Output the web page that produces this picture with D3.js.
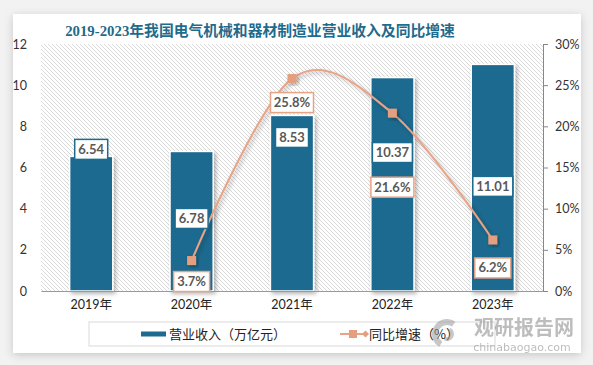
<!DOCTYPE html>
<html><head><meta charset="utf-8">
<script src="https://cdn.jsdelivr.net/npm/d3@7"></script>
<style>
html,body{margin:0;padding:0;background:#f2f2f2;}
svg{display:block;}
</style></head>
<body>
<svg id="c" width="593" height="365"></svg>
<script>
const categories = ["2019年","2020年","2021年","2022年","2023年"];
const revenue = [6.54, 6.78, 8.53, 10.37, 11.01];
const growth = [null, 3.7, 25.8, 21.6, 6.2];
const leftTicks = [0,2,4,6,8,10,12];
const rightTicks = [0,5,10,15,20,25,30];
const title = "2019-2023年我国电气机械和器材制造业营业收入及同比增速";
const legendBar = "营业收入（万亿元）";
const legendLine = "同比增速（%）";

// label offset styling (px relative to bar top / marker)
const barLabelDy = [-7, 67, 22, 75, 122];
const lineLabelDy = [0, 21, 24, 74, 28];

const svg = d3.select("#c");
const defs = svg.append("defs");
const f = defs.append("filter").attr("id","sh").attr("x","-30%").attr("y","-30%").attr("width","160%").attr("height","160%");
f.append("feDropShadow").attr("dx",2).attr("dy",2).attr("stdDeviation",2).attr("flood-color","#000").attr("flood-opacity",0.3);
const f2 = defs.append("filter").attr("id","card").attr("x","-10%").attr("y","-10%").attr("width","120%").attr("height","120%");
f2.append("feDropShadow").attr("dx",0).attr("dy",2).attr("stdDeviation",4).attr("flood-color","#000").attr("flood-opacity",0.18);
const pat = defs.append("pattern").attr("id","hatch").attr("patternUnits","userSpaceOnUse")
  .attr("width",4).attr("height",4);
pat.append("path").attr("d","M-1,-1 L5,5 M-1,3 L1,5 M3,-1 L5,1").attr("stroke","#cfcfcf").attr("stroke-width",0.8);

// card
svg.append("rect").attr("x",13).attr("y",14).attr("width",568).attr("height",339).attr("fill","#fff").attr("filter","url(#card)");

const m = {l:41, r:543, t:44, b:291};
const x = d3.scaleBand().domain(categories).range([m.l,m.r]).paddingInner(0.57).paddingOuter(0.285);
const yL = d3.scaleLinear().domain([0,12]).range([m.b,m.t]);
const yR = d3.scaleLinear().domain([0,30]).range([m.b,m.t]);

svg.append("rect").attr("x",m.l).attr("y",m.t).attr("width",m.r-m.l).attr("height",m.b-m.t).attr("fill","url(#hatch)");

// title
svg.append("text").attr("x",260).attr("y",35.5).attr("text-anchor","middle")
  .attr("font-family","'Liberation Serif','Noto Sans CJK SC'").attr("font-weight","bold")
  .attr("font-size",14.8).attr("fill","#1f6b8c").text(title);

// axes
const gL = svg.append("g").attr("transform",`translate(${m.l},0)`)
  .call(d3.axisLeft(yL).tickValues(leftTicks).tickSize(0).tickPadding(14));
gL.select(".domain").remove();
gL.selectAll("text").attr("font-family","Lato,'Noto Sans'").attr("font-size",12.5).attr("fill","#333");

const gR = svg.append("g").attr("transform",`translate(${m.r},0)`)
  .call(d3.axisRight(yR).tickValues(rightTicks).tickSize(5).tickPadding(7).tickFormat(d=>d+"%"));
gR.select(".domain").attr("stroke","#888");
gR.selectAll("line").attr("stroke","#888");
gR.selectAll("text").attr("font-family","Lato,'Noto Sans'").attr("font-size",12.5).attr("fill","#333");

// bars
svg.append("g").selectAll("rect").data(revenue).join("rect")
  .attr("x",(d,i)=>x(categories[i])).attr("y",d=>yL(d))
  .attr("width",x.bandwidth()).attr("height",d=>yL(0)-yL(d))
  .attr("fill","#1d6b8f").attr("stroke","#fff").attr("stroke-width",1.5).attr("filter","url(#sh)");

const gX = svg.append("g").attr("transform",`translate(0,${m.b})`)
  .call(d3.axisBottom(x).tickSize(0).tickPadding(9));
gX.select(".domain").attr("stroke","#999").attr("stroke-width",1.2);
gX.selectAll("text").attr("font-family","Lato,'Noto Sans CJK SC'").attr("font-size",12.5).attr("fill","#222");

// line
const cx = i => x(categories[i]) + x.bandwidth()/2;
const line = d3.line().defined(d=>d!=null).x((d,i)=>cx(i)).y(d=>yR(d)).curve(d3.curveCardinal.tension(0));
svg.append("path").datum(growth).attr("d",line).attr("fill","none")
  .attr("stroke","#eaa385").attr("stroke-width",2).attr("filter","url(#sh)");
svg.append("g").selectAll("rect").data(growth.map((d,i)=>({d,i})).filter(o=>o.d!=null)).join("rect")
  .attr("x",o=>cx(o.i)-4.5).attr("y",o=>yR(o.d)-4.5).attr("width",9).attr("height",9)
  .attr("fill","#e59e7e").attr("filter","url(#sh)");

// labels
function box(g, cxv, cyv, txt, stroke, w){
  g.append("rect").attr("x",cxv-w/2).attr("y",cyv-10).attr("width",w).attr("height",20)
    .attr("fill","#fff").attr("stroke",stroke).attr("stroke-width",1.5);
  g.append("text").attr("x",cxv).attr("y",cyv+4.5).attr("text-anchor","middle")
    .attr("font-family","Lato,'Noto Sans'").attr("font-weight","bold").attr("font-size",13)
    .attr("fill","#595959").text(txt);
}
const gl = svg.append("g");
revenue.forEach((d,i)=>{
  const t = d.toFixed(2);
  box(gl, cx(i), yL(d)+barLabelDy[i], t, "#1d6b8f", t.length>4?40:33);
});
growth.forEach((d,i)=>{
  if(d==null) return;
  const t = d.toFixed(1)+"%";
  box(gl, cx(i), yR(d)+lineLabelDy[i], t, "#e8a285", t.length>4?43:36);
});

// legend
svg.append("rect").attr("x",89).attr("y",322).attr("width",406).attr("height",24)
  .attr("fill","none").attr("stroke","#d9d9d9").attr("stroke-width",1);
svg.append("rect").attr("x",141).attr("y",331.5).attr("width",25).attr("height",5).attr("fill","#1d6b8f");
svg.append("text").attr("x",169).attr("y",339).attr("font-family","'Noto Sans CJK SC'").attr("font-size",13)
  .attr("fill","#222").text(legendBar);
svg.append("line").attr("x1",340).attr("x2",366).attr("y1",334).attr("y2",334).attr("stroke","#eaa385").attr("stroke-width",2);
svg.append("rect").attr("x",349).attr("y",330).attr("width",8).attr("height",8).attr("fill","#e59e7e");
svg.append("path").attr("d","M362,334 L365.5,330.5 L369,334 L365.5,337.5Z").attr("fill","#e59e7e");
svg.append("text").attr("x",369).attr("y",339).attr("font-family","'Noto Sans CJK SC'").attr("font-size",13)
  .attr("fill","#222").text(legendLine);

// watermark
const wm = svg.append("g").attr("opacity",0.55);
wm.append("path").attr("d",d3.arc()({innerRadius:9,outerRadius:15,startAngle:-2.6,endAngle:0.6})).attr("transform","translate(447,334)").attr("fill","#9a9a9a");
wm.append("path").attr("d",d3.arc()({innerRadius:3,outerRadius:7,startAngle:0.5,endAngle:3.6})).attr("transform","translate(447,334)").attr("fill","#9a9a9a");
wm.append("text").attr("x",524).attr("y",335).attr("text-anchor","middle").attr("font-family","'Noto Sans CJK SC'")
  .attr("font-weight","bold").attr("font-size",20).attr("fill","#888").text("观研报告网");
wm.append("text").attr("x",522).attr("y",351).attr("text-anchor","middle").attr("font-family","'DejaVu Sans'")
  .attr("font-size",11).attr("fill","#888").text("chinabaogao.com");
</script>
</body></html>
